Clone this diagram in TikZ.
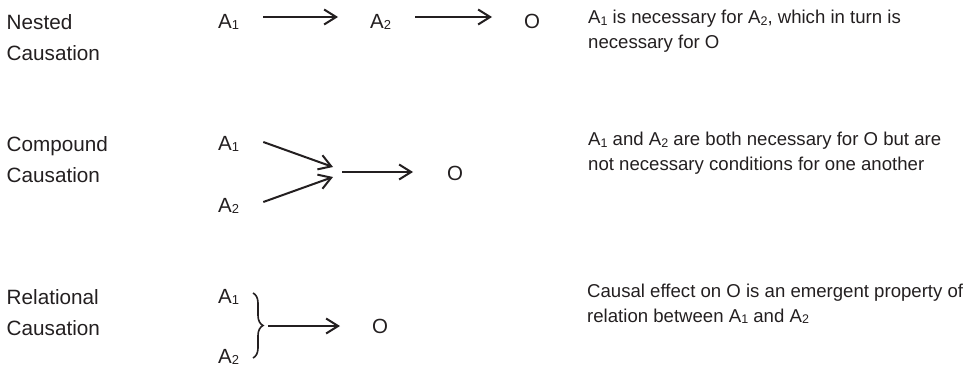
\documentclass[tikz,border=0pt]{standalone}
\usepackage{fontspec}
\setmainfont{Liberation Sans}
\usetikzlibrary{arrows.meta,decorations.pathreplacing}
\definecolor{ink}{HTML}{231F20}
\newcommand\sbm[1]{\raisebox{-1.8pt}{\fontsize{13}{13}\selectfont #1}}
\newcommand\sbr[1]{\raisebox{-1.8pt}{\fontsize{12.5}{12.5}\selectfont #1}}
\begin{document}
\begin{tikzpicture}[x=1pt,y=-1pt,
  lab/.style={anchor=base west,inner sep=0pt,font=\fontsize{20.7}{31}\selectfont,text=ink,align=left},
  sym/.style={anchor=base west,inner sep=0pt,font=\fontsize{20.5}{24}\selectfont,text=ink},
  desc/.style={anchor=base west,inner sep=0pt,font=\fontsize{18.6}{24.5}\selectfont,text=ink,align=left},
  arr/.style={draw=ink,line width=2pt,-{Straight Barb[length=12pt,width=15pt]}},
  brc/.style={draw=ink,line width=1.6pt,decorate,decoration={brace,amplitude=10pt}}]
\useasboundingbox (0,0) rectangle (979,367);
% left labels (base = last line)
\node[lab] (ln) at (6.5,60) {Nested\\Causation};
\node[lab] (lc) at (6.5,182) {Compound\\Causation};
\node[lab] (lr) at (6.5,335) {Relational\\Causation};
% nested
\node[sym] (na1) at (218,28) {A\sbm{1}};
\node[sym] (na2) at (370,28) {A\sbm{2}};
\node[sym] (no) at (524,28) {O};
\draw[arr] ([xshift=24pt,yshift=11pt]na1.base east) -- ([xshift=-32pt,yshift=11pt]na2.base west);
\draw[arr] ([xshift=24pt,yshift=11pt]na2.base east) -- ([xshift=-32pt,yshift=11pt]no.base west);
% compound
\node[sym] (ca1) at (218,150) {A\sbm{1}};
\node[sym] (ca2) at (218,212) {A\sbm{2}};
\node[sym] (co) at (447,180) {O};
\coordinate (ct1) at (333,167);
\coordinate (ct2) at (333,177);
\coordinate (cj) at (342,172);
\draw[arr] ([xshift=24pt,yshift=8pt]ca1.base east) -- (ct1);
\draw[arr] ([xshift=24pt,yshift=10pt]ca2.base east) -- (ct2);
\draw[arr] (cj) -- ([xshift=-34pt,yshift=8pt]co.base west);
% relational
\node[sym] (ra1) at (218,303) {A\sbm{1}};
\node[sym] (ra2) at (218,363) {A\sbm{2}};
\node[sym] (ro) at (372,333) {O};
\coordinate (rbt) at (253,293);
\coordinate (rbb) at (253,358);
\coordinate (rtip) at (268,326);
\draw[brc] (rbt) -- (rbb);
\draw[arr] (rtip) -- ([xshift=-32pt,yshift=7pt]ro.base west);
% descriptions (base = last line)
\node[desc] (dn) at (588,48) {A\sbr{1} is necessary for A\sbr{2}, which in turn is\\necessary for O};
\node[desc] (dc) at (588,170) {A\sbr{1} and A\sbr{2} are both necessary for O but are\\not necessary conditions for one another};
\node[desc] (dr) at (587,322) {Causal effect on O is an emergent property of\\relation between A\sbr{1} and A\sbr{2}};
\end{tikzpicture}
\end{document}
